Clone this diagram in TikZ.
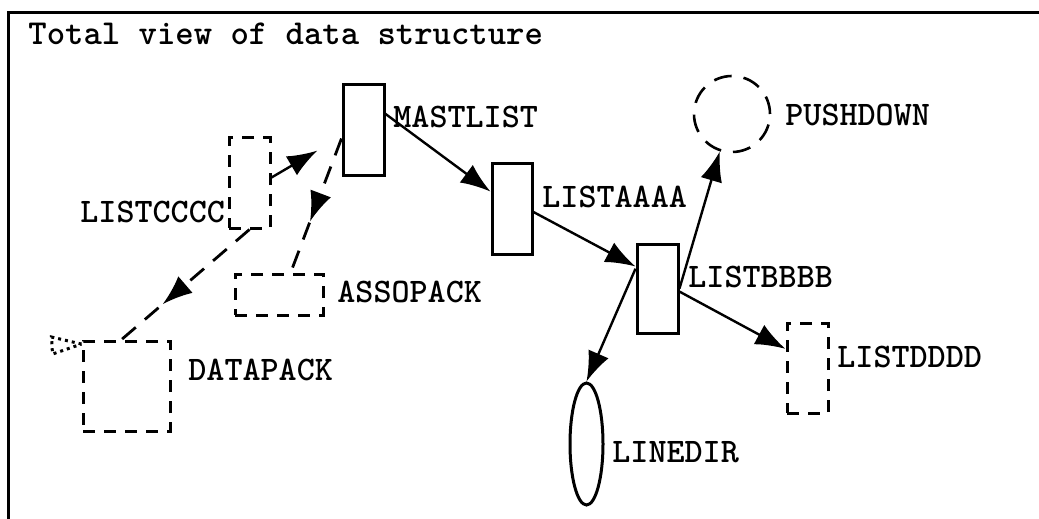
\documentclass[tikz,border=0pt]{standalone}
\usepackage{fontspec}
\usetikzlibrary{arrows.meta,shapes.geometric,decorations.markings}
\tikzset{>={Latex[length=15pt,width=11pt]}}
\tikzset{
  box/.style = {draw, line width=1.5pt, inner sep=0pt,
    minimum width=20.5pt, minimum height=45pt},
  dbox/.style = {box, dash pattern=on 6pt off 4.5pt},
  lbl/.style = {anchor=base west, inner sep=0pt,
    font=\fontsize{17.2}{20}\selectfont\ttfamily\bfseries},
  link/.style = {->, line width=1.2pt},
  dlink/.style = {line width=1.4pt, dash pattern=on 9pt off 6pt,
    postaction={decorate},
    decoration={markings, mark=at position #1 with {\arrow{>}}}},
  dlink/.default = 0.6
}

\begin{document}
\begin{tikzpicture}[x=0.5pt,y=-0.5pt]
  \useasboundingbox (0,0) rectangle (1039,519);
  \draw[line width=1.5pt] (8,519) -- (8,13) -- (1039,13);
  \node[lbl,font=\fontsize{17.5}{20}\selectfont\ttfamily\bfseries] (title) at (28,45) {Total view of data structure};

  % the lists
  \node[box,minimum height=45.5pt] (mastlist) at (363.5,130.5) {};
  \node[box,minimum width=20pt] (listaaaa) at (512,209) {};
  \node[box,minimum height=44.5pt] (listbbbb) at (657.5,288.5) {};
  \node[dbox] (listcccc) at (249.5,183) {};
  \node[dbox] (listdddd) at (807.5,368) {};
  \node[dbox,minimum width=44pt,minimum height=20.5pt] (assopack) at (279,294.5) {};
  \node[dbox,minimum width=43.5pt] (datapack) at (126.5,386) {};
  \node[draw,circle,line width=1.3pt,dash pattern=on 9pt off 6pt,
    minimum size=38pt,inner sep=0pt] (pushdown) at (732,114) {};
  \node[draw,ellipse,line width=1.5pt,minimum width=16.5pt,
    minimum height=61pt,inner sep=0pt] (linedir) at (586.5,444) {};

  % names
  \node[lbl] (mastlistname) at (393,128) {MASTLIST};
  \node[lbl] (listaaaaname) at (542,207) {LISTAAAA};
  \node[lbl] (listbbbbname) at (688,287) {LISTBBBB};
  \node[lbl] (listccccname) at (80,222) {LISTCCCC};
  \node[lbl] (listddddname) at (837,367) {LISTDDDD};
  \node[lbl] (assopackname) at (337,302) {ASSOPACK};
  \node[lbl] (datapackname) at (188,380) {DATAPACK};
  \node[lbl] (pushdownname) at (785,126) {PUSHDOWN};
  \node[lbl] (linedirname) at (612,462) {LINEDIR};

  % pointers
  \draw[link] (mastlist.37) -- (listaaaa.141);
  \draw[link] (listaaaa.-8) -- (listbbbb.135);
  \draw[link] (listbbbb.east) -- (pushdown.252);
  \draw[link] (listbbbb.138) -- (linedir.north);
  \draw[link] (listbbbb.-8) -- (listdddd.139);
  \draw[link,shorten >=14pt] (listcccc.14) -- (mastlist.195);
  \draw[dlink=0.62] (mastlist.200) -- (assopack.62);
  \draw[dlink=0.68] (listcccc.south) -- (datapack.96);
  \draw[dotted,line width=1.5pt] (datapack.137) -- ++(-30,-7) -- ++(1,17) -- cycle;
\end{tikzpicture}
\end{document}
